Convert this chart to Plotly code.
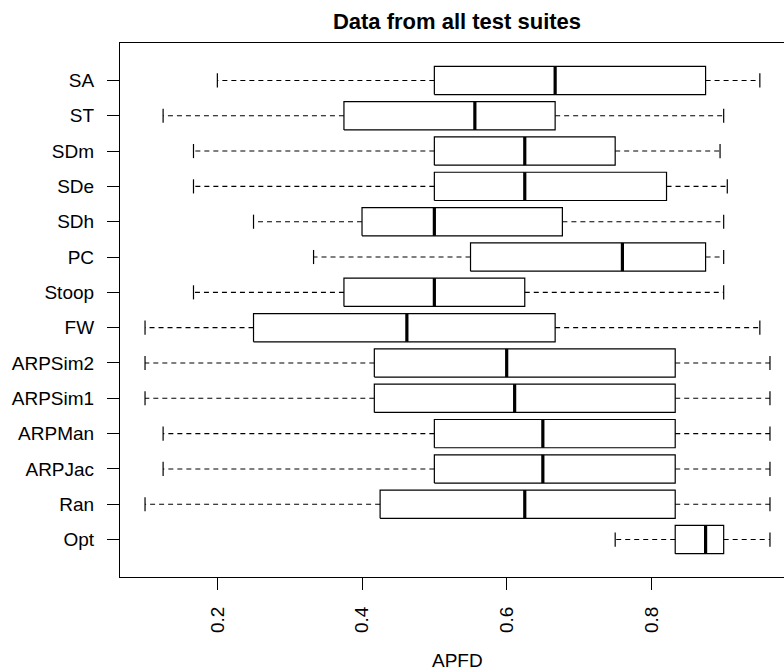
import plotly.graph_objects as go

categories = ["SA", "ST", "SDm", "SDe", "SDh", "PC", "Stoop", "FW",
              "ARPSim2", "ARPSim1", "ARPMan", "ARPJac", "Ran", "Opt"]
whisker_low = [0.2, 0.125, 0.167, 0.167, 0.25, 0.333, 0.167, 0.1,
               0.1, 0.1, 0.125, 0.125, 0.1, 0.75]
q1 = [0.5, 0.375, 0.5, 0.5, 0.4, 0.55, 0.375, 0.25,
      0.417, 0.417, 0.5, 0.5, 0.425, 0.833]
median = [0.667, 0.556, 0.625, 0.625, 0.5, 0.76, 0.5, 0.462,
          0.6, 0.611, 0.65, 0.65, 0.625, 0.875]
q3 = [0.875, 0.667, 0.75, 0.821, 0.677, 0.875, 0.625, 0.667,
      0.833, 0.833, 0.833, 0.833, 0.833, 0.9]
whisker_high = [0.95, 0.9, 0.895, 0.905, 0.9, 0.9, 0.9, 0.95,
                0.964, 0.964, 0.964, 0.964, 0.964, 0.964]
x_ticks = [0.2, 0.4, 0.6, 0.8]
x_tick_labels = ["0.2", "0.4", "0.6", "0.8"]

n = len(categories)
pos = [n - i for i in range(n)]  # SA at top, Opt at bottom
half_box = 0.4
half_staple = 0.2

box_x, box_y = [], []
med_x, med_y = [], []
wh_x, wh_y = [], []
st_x, st_y = [], []
for i in range(n):
    p = pos[i]
    box_x += [q1[i], q3[i], q3[i], q1[i], q1[i], None]
    box_y += [p - half_box, p - half_box, p + half_box, p + half_box, p - half_box, None]
    med_x += [median[i], median[i], None]
    med_y += [p - half_box, p + half_box, None]
    wh_x += [q1[i], whisker_low[i], None, q3[i], whisker_high[i], None]
    wh_y += [p, p, None, p, p, None]
    st_x += [whisker_low[i], whisker_low[i], None, whisker_high[i], whisker_high[i], None]
    st_y += [p - half_staple, p + half_staple, None, p - half_staple, p + half_staple, None]

fig = go.Figure()
fig.add_trace(go.Scatter(x=wh_x, y=wh_y, mode="lines",
                         line=dict(color="black", width=1.1, dash="5px,4px"),
                         hoverinfo="skip", showlegend=False))
fig.add_trace(go.Scatter(x=st_x, y=st_y, mode="lines",
                         line=dict(color="black", width=1.2),
                         hoverinfo="skip", showlegend=False))
fig.add_trace(go.Scatter(x=box_x, y=box_y, mode="lines",
                         line=dict(color="black", width=1.2),
                         hoverinfo="skip", showlegend=False))
fig.add_trace(go.Scatter(x=med_x, y=med_y, mode="lines",
                         line=dict(color="black", width=3.2),
                         hoverinfo="skip", showlegend=False))

font_family = "Liberation Sans, Arial, Helvetica, sans-serif"
plot_top, plot_bottom = 43, 577
fig.update_layout(
    width=784, height=672,
    margin=dict(l=120, r=0, t=plot_top, b=672 - plot_bottom),
    paper_bgcolor="white", plot_bgcolor="white",
    font=dict(family=font_family, size=19, color="black"),
    title=dict(text="Data from all test suites", x=457 / 784, xref="container",
               xanchor="center", y=1 - 21 / 672, yref="container", yanchor="middle",
               font=dict(size=22, weight="bold", family=font_family)),
    xaxis=dict(range=[0.0654, 0.9834], tickvals=x_ticks, ticktext=x_tick_labels,
               tickangle=-90, ticks="outside", ticklen=12, tickwidth=1.2,
               tickcolor="black", showline=True, linecolor="black", linewidth=1.2,
               mirror=True, showgrid=False, zeroline=False, ticklabelstandoff=9),
    yaxis=dict(range=[-0.06, 15.06], tickvals=pos, ticktext=categories,
               ticks="outside", ticklen=12, tickwidth=1.2, tickcolor="black",
               showline=True, linecolor="black", linewidth=1.2, mirror=False,
               showgrid=False, zeroline=False, ticklabelstandoff=9),
    annotations=[dict(text="APFD", x=(457 - 120) / 664, xref="paper",
                      y=(plot_bottom - 660) / (plot_bottom - plot_top), yref="paper",
                      xanchor="center", yanchor="middle", showarrow=False,
                      font=dict(size=19))],
)

fig.write_html("out.html",
               config={"displayModeBar": False},
               post_script="document.body.style.margin='0px';"
                           "document.body.style.padding='0px';")
